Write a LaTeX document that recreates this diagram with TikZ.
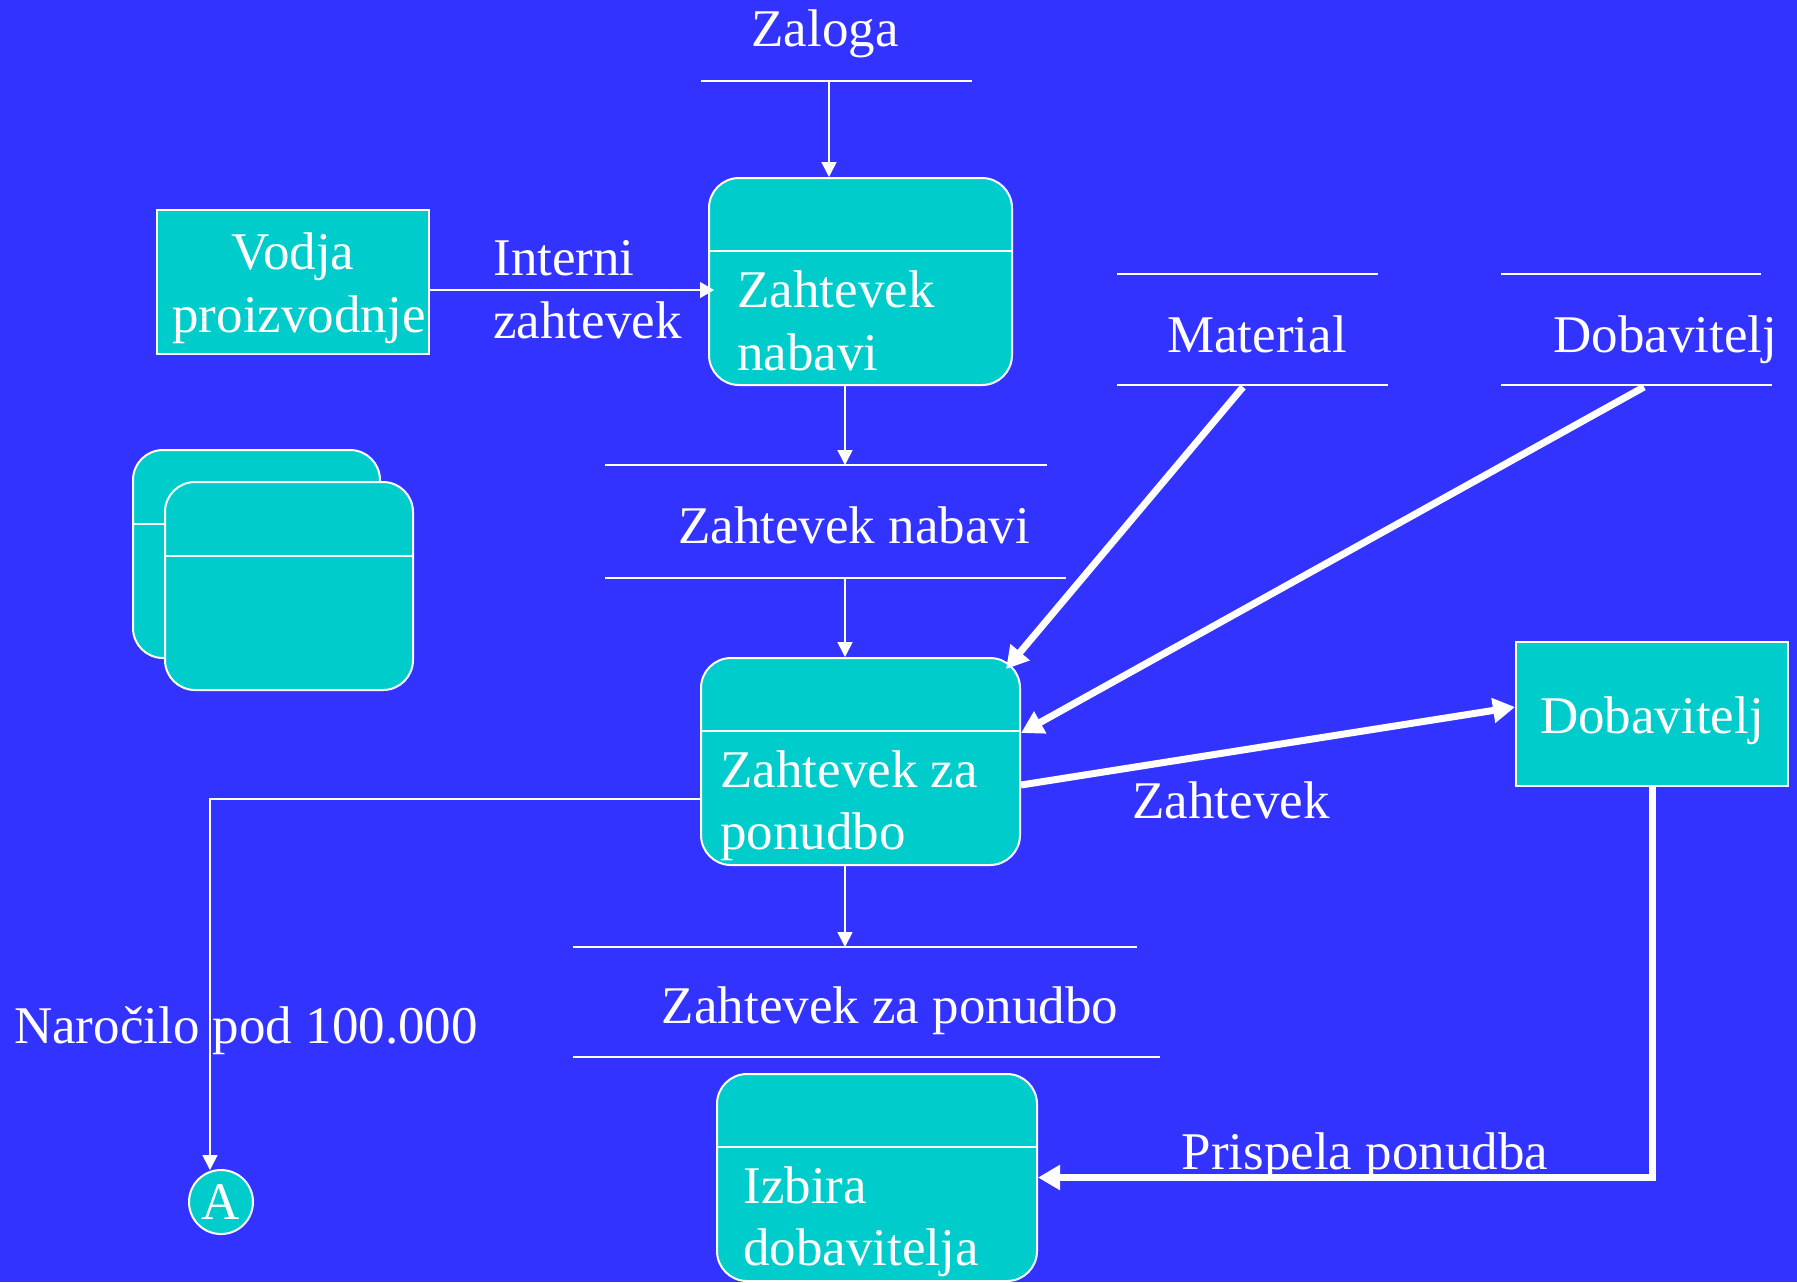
\documentclass[tikz,border=0pt]{standalone}
\usepackage{fontspec}
\setmainfont{Liberation Serif}
\usetikzlibrary{arrows.meta}
\definecolor{bgblue}{HTML}{3333FF}
\definecolor{procfill}{HTML}{00CCCC}
\begin{document}
\begin{tikzpicture}[x=0.5pt,y=-0.5pt,
  lbl/.style={text=white, inner sep=0pt, font=\fontsize{26.5}{31.5}\selectfont},
  proc/.style={draw=white, line width=1pt, fill=procfill, rounded corners=15pt, inner sep=0pt},
  ext/.style={draw=white, line width=1pt, fill=procfill, inner sep=0pt},
  storeline/.style={draw=white, line width=1pt},
  flow/.style={draw=white, line width=0.75pt, -{Triangle[length=7.5pt,width=7.5pt]}},
  sideflow/.style={draw=white, line width=0.75pt, -{Triangle[length=7pt,width=8pt]}},
  bigflow/.style={draw=white, line width=3.5pt, -{Triangle[length=11pt,width=12pt]}},
]
% canvas
\fill[bgblue] (0,0) rectangle (1797,1282);
\useasboundingbox (0,0) rectangle (1797,1282);

% data store: Zaloga
\coordinate (zalL) at (701,81);
\coordinate (zalR) at (972,81);
\draw[storeline] (zalL) -- (zalR);
\node[lbl, anchor=base] (zal) at (825,46) {Zaloga};
\coordinate (zalOut) at (829,81);

% process: Zahtevek nabavi
\node[proc, minimum width=151.5pt, minimum height=103.5pt] (p1) at (860.5,281.5) {};
\draw[storeline] (p1.west |- 0,251) -- (p1.east |- 0,251);
\node[lbl, anchor=base west] (p1a) at (737,307) {Zahtevek};
\node[lbl, anchor=base west] (p1b) at (737,370) {nabavi};
\draw[flow] (zalOut) -- (zalOut |- p1.north);

% external entity: Vodja proizvodnje
\node[ext, minimum width=136pt, minimum height=72pt] (v) at (293,282) {};
\node[lbl, anchor=base] (va) at (293,269) {Vodja};
\node[lbl, anchor=base] (vb) at (299,332) {proizvodnje};
\coordinate (ia) at (0,290);
\draw[sideflow, shorten >=-3pt] (v.east |- ia) -- (p1.west |- ia);
\node[lbl, anchor=base west] (iza) at (493,275) {Interni};
\node[lbl, anchor=base west] (izb) at (493,338) {zahtevek};

% data store: Zahtevek nabavi
\coordinate (s1t) at (845,465);
\coordinate (s1b) at (845,578);
\draw[storeline] (605,465) -- (1047,465);
\draw[storeline] (605,578) -- (1066,578);
\node[lbl, anchor=base] (s1) at (854,543) {Zahtevek nabavi};
\draw[flow] (s1t |- p1.south) -- (s1t);

% stacked process icon
\node[proc, minimum width=123.5pt, minimum height=104pt] (k1) at (256.5,554) {};
\draw[storeline] (k1.west |- 0,524) -- (k1.east |- 0,524);
\node[proc, minimum width=124pt, minimum height=104pt] (k2) at (289,586) {};
\draw[storeline] (k2.west |- 0,556) -- (k2.east |- 0,556);

% process: Zahtevek za ponudbo
\node[proc, minimum width=159.5pt, minimum height=103.5pt] (p2) at (860.5,761.5) {};
\draw[storeline] (p2.west |- 0,731) -- (p2.east |- 0,731);
\node[lbl, anchor=base west] (p2a) at (720,787) {Zahtevek za};
\node[lbl, anchor=base west] (p2b) at (720,849) {ponudbo};
\draw[flow] (s1b) -- (s1b |- p2.north);

% data stores: Material, Dobavitelj
\draw[storeline] (1117,274) -- (1378,274);
\draw[storeline] (1117,385) -- (1388,385);
\node[lbl, anchor=base] (mat) at (1257,352) {Material};
\coordinate (matOut) at (1243,387);
\draw[storeline] (1501,274) -- (1761,274);
\draw[storeline] (1501,385) -- (1772,385);
\node[lbl, anchor=base west] (dob) at (1553,352) {Dobavitelj};
\coordinate (dobOut) at (1644,387);

\coordinate (p2ne) at (1006,669);
\draw[bigflow] (matOut) -- (p2ne);
\draw[bigflow] (dobOut) -- (p2.east |- 0,733);

% external entity: Dobavitelj
\node[ext, minimum width=136pt, minimum height=72pt] (d) at (1652,714) {};
\node[lbl, anchor=base] (da) at (1652,733) {Dobavitelj};
\draw[bigflow] (p2.east |- 0,785) -- (d.west |- 0,707);
\node[lbl, anchor=base] (zl) at (1231,818) {Zahtevek};

% data store: Zahtevek za ponudbo
\coordinate (s2t) at (845,947);
\draw[storeline] (573,947) -- (1137,947);
\draw[storeline] (573,1057) -- (1160,1057);
\node[lbl, anchor=base] (s2) at (890,1023) {Zahtevek za ponudbo};
\draw[flow] (s2t |- p2.south) -- (s2t);

% process: Izbira dobavitelja
\node[proc, minimum width=160pt, minimum height=103.5pt] (p3) at (877,1177.5) {};
\draw[storeline] (p3.west |- 0,1147) -- (p3.east |- 0,1147);
\node[lbl, anchor=base west] (p3a) at (743,1203) {Izbira};
\node[lbl, anchor=base west] (p3b) at (743,1265) {dobavitelja};
\draw[bigflow] (d.south) |- (p3.east);
\node[lbl, anchor=base] (pp) at (1365,1169) {Prispela ponudba};

% connector A
\node[lbl, circle, draw=white, line width=1pt, fill=procfill, minimum size=32pt] (A) at (221,1202) {A};
\coordinate (aTop) at (210,1170);
\draw[flow] (p2.west |- 0,799) -| (aTop);
\node[lbl, anchor=base] (nl) at (246,1043) {Naročilo pod 100.000};
\end{tikzpicture}
\end{document}
